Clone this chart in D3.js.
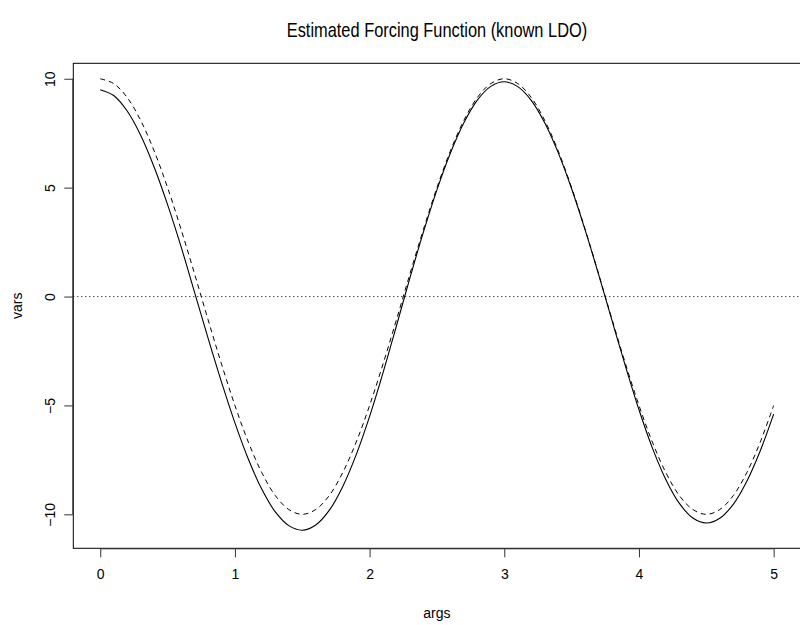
<!DOCTYPE html>
<html>
<head>
<meta charset="utf-8">
<script src="https://cdn.jsdelivr.net/npm/d3@7"></script>
<style>
  body { margin: 0; background: #fff; }
  text { font-family: "Liberation Sans", Arial, sans-serif; fill: #000; }
</style>
</head>
<body>
<div id="chart"></div>
<script>
// Data
var args = [0.0, 0.1, 0.2, 0.3, 0.4, 0.5, 0.6, 0.7, 0.8, 0.9,
            1.0, 1.1, 1.2, 1.3, 1.4, 1.5, 1.6, 1.7, 1.8, 1.9,
            2.0, 2.1, 2.2, 2.3, 2.4, 2.5, 2.6, 2.7, 2.8, 2.9,
            3.0, 3.1, 3.2, 3.3, 3.4, 3.5, 3.6, 3.7, 3.8, 3.9,
            4.0, 4.1, 4.2, 4.3, 4.4, 4.5, 4.6, 4.7, 4.8, 4.9, 5.0];

// estimated forcing function (solid)
var estimated = [9.50, 9.23, 8.52, 7.41, 5.95, 4.22, 2.29, 0.20, -1.90, -3.92,
                 -5.80, -7.47, -8.85, -9.89, -10.52, -10.73, -10.49, -9.82, -8.73, -7.27,
                 -5.50, -3.49, -1.33, 0.87, 2.97, 4.90, 6.59, 7.98, 9.02, 9.65,
                 9.86, 9.64, 9.01, 7.98, 6.61, 4.95, 3.06, 1.02, -1.11, -3.21,
                 -5.20, -6.96, -8.41, -9.50, -10.17, -10.40, -10.18, -9.54, -8.49, -7.09, -5.40];

// true forcing function (dashed)
var truth = [10.00, 9.78, 9.14, 8.09, 6.69, 5.00, 3.09, 1.05, -1.05, -3.09,
             -5.00, -6.69, -8.09, -9.14, -9.78, -10.00, -9.78, -9.14, -8.09, -6.69,
             -5.00, -3.09, -1.05, 1.05, 3.09, 5.00, 6.69, 8.09, 9.14, 9.78,
             10.00, 9.78, 9.14, 8.09, 6.69, 5.00, 3.09, 1.05, -1.05, -3.09,
             -5.00, -6.69, -8.09, -9.14, -9.78, -10.00, -9.78, -9.14, -8.09, -6.69, -5.00];

var xTicks = [0, 1, 2, 3, 4, 5];
var yTicks = [-10, -5, 0, 5, 10];

var W = 800, H = 625;
var pLeft = 73.3, pRight = 800.6, pTop = 63.3, pBottom = 548.3;

var x = d3.scaleLinear().domain([-0.2, 5.2]).range([pLeft, pRight]);
var y = d3.scaleLinear().domain([-11.56, 10.71]).range([pBottom, pTop]);

var svg = d3.select('#chart').append('svg')
    .attr('width', W)
    .attr('height', H)
    .style('background', '#fff');

// title (squeezed a bit, the original uses a narrow face)
svg.append('text')
    .attr('transform', 'translate(' + (pLeft + pRight) / 2 + ',37) scale(0.82,1)')
    .attr('text-anchor', 'middle')
    .style('font-size', '20px')
    .text('Estimated Forcing Function (known LDO)');

// zero reference line (dotted)
svg.append('line')
    .attr('x1', pLeft).attr('x2', pRight)
    .attr('y1', y(0)).attr('y2', y(0))
    .attr('stroke', '#000')
    .attr('stroke-width', 1)
    .attr('stroke-dasharray', '1,3');

var line = function(vals) {
    return d3.line()
        .x(function(d, i) { return x(args[i]); })
        .y(function(d) { return y(d); })
        .curve(d3.curveCatmullRom)(vals);
};

svg.append('path')
    .attr('d', line(truth))
    .attr('fill', 'none')
    .attr('stroke', '#000')
    .attr('stroke-width', 1)
    .attr('stroke-dasharray', '5,4');

svg.append('path')
    .attr('d', line(estimated))
    .attr('fill', 'none')
    .attr('stroke', '#000')
    .attr('stroke-width', 1.1);

// plot box
svg.append('rect')
    .attr('x', pLeft).attr('y', pTop)
    .attr('width', pRight - pLeft).attr('height', pBottom - pTop)
    .attr('fill', 'none')
    .attr('stroke', '#000')
    .attr('stroke-width', 1);

// x axis
var xAxis = d3.axisBottom(x).tickValues(xTicks).tickSize(9).tickPadding(12)
    .tickFormat(d3.format('d'));
var gx = svg.append('g')
    .attr('transform', 'translate(0,' + pBottom + ')')
    .call(xAxis);
gx.select('.domain')
    .attr('d', 'M' + x(xTicks[0]) + ',0.5H' + x(xTicks[xTicks.length - 1]))
    .attr('stroke', '#333');
gx.selectAll('.tick line').attr('stroke', '#333');
gx.selectAll('text').style('font-size', '14px').style('font-family', '"Liberation Sans", Arial, sans-serif');

// y axis, labels rotated like R
var yAxis = d3.axisLeft(y).tickValues(yTicks).tickSize(9).tickPadding(0)
    .tickFormat(d3.format('d'));
var gy = svg.append('g')
    .attr('transform', 'translate(' + pLeft + ',0)')
    .call(yAxis);
gy.select('.domain')
    .attr('d', 'M-0.5,' + y(yTicks[0]) + 'V' + y(yTicks[yTicks.length - 1]))
    .attr('stroke', '#333');
gy.selectAll('.tick line').attr('stroke', '#333');
gy.selectAll('.tick text')
    .attr('x', null).attr('dy', null)
    .attr('text-anchor', 'middle')
    .attr('transform', 'translate(-18,0) rotate(-90)')
    .style('font-size', '14px')
    .style('font-family', '"Liberation Sans", Arial, sans-serif');

// axis titles
svg.append('text')
    .attr('x', (pLeft + pRight) / 2)
    .attr('y', 618)
    .attr('text-anchor', 'middle')
    .style('font-size', '14px')
    .text('args');

svg.append('text')
    .attr('transform', 'translate(22,' + (pTop + pBottom) / 2 + ') rotate(-90)')
    .attr('text-anchor', 'middle')
    .style('font-size', '14px')
    .text('vars');
</script>
</body>
</html>
